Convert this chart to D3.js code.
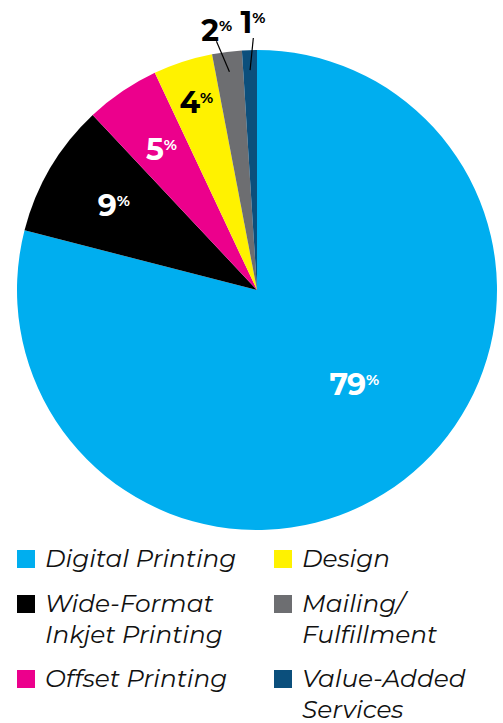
<!DOCTYPE html>
<html>
<head>
    <meta charset="utf-8">
    <script src="https://d3js.org/d3.v7.min.js"></script>
    <style>
        body { margin: 0; background: #fff; }
        svg { display: block; }
    </style>
</head>
<body>
<div id="chart"></div>
<script>
    // chart data
    const categories = ["Digital Printing", "Wide-Format Inkjet Printing", "Offset Printing", "Design", "Mailing/ Fulfillment", "Value-Added Services"];
    const values = [79, 9, 5, 4, 2, 1];
    const colors = ["#00aeef", "#000000", "#ec008c", "#fff200", "#6d6e71", "#0b4f7c"];
    // legend lines (wrapped like the original)
    const legendLines = [["Digital Printing"], ["Wide-Format", "Inkjet Printing"], ["Offset Printing"], ["Design"], ["Mailing/", "Fulfillment"], ["Value-Added", "Services"]];

    const width = 503, height = 723;
    const cx = 257, cy = 290, radius = 240;

    const svg = d3.select("#chart").append("svg")
        .attr("width", width)
        .attr("height", height);

    const pie = d3.pie().sort(null).value(d => d);
    const arcs = pie(values);
    const arc = d3.arc().innerRadius(0).outerRadius(radius);

    const g = svg.append("g").attr("transform", `translate(${cx},${cy})`);

    g.selectAll("path")
        .data(arcs)
        .enter()
        .append("path")
        .attr("d", arc)
        .attr("fill", (d, i) => colors[i]);

    // label placement: radius and angle nudge per slice
    const labelR = [135, 167, 171, 198, 263, 268];
    const labelShift = [-0.14, 0, 0, 0, -0.03, 0.014];
    const inside = [true, true, true, true, false, false];

    function polar(r, a) {
        return [r * Math.sin(a), -r * Math.cos(a)];
    }

    arcs.forEach((d, i) => {
        const mid = (d.startAngle + d.endAngle) / 2;
        const [x, y] = polar(labelR[i], mid + labelShift[i]);
        const col = inside[i] && i !== 3 ? "#fff" : "#000";
        const t = g.append("text")
            .attr("x", x)
            .attr("y", y + 11)
            .attr("text-anchor", "middle")
            .style("font-family", "Montserrat, Lato, 'Noto Sans', sans-serif")
            .style("font-weight", 700)
            .style("font-size", "30px")
            .style("letter-spacing", "-1px")
            .attr("fill", col);
        t.append("tspan").text(values[i]);
        t.append("tspan")
            .attr("dy", -10)
            .attr("dx", 1)
            .style("font-size", "15px")
            .text("%");
        if (!inside[i]) {
            // leader line into the thin slice
            const [x1, y1] = polar(radius + 12, mid + labelShift[i] * 1.2);
            const [x2, y2] = polar(radius - 20, mid);
            g.append("line")
                .attr("x1", x1).attr("y1", y1)
                .attr("x2", x2).attr("y2", y2)
                .attr("stroke", "#000")
                .attr("stroke-width", 1.2);
        }
    });

    // legend
    const colX = [17, 274];
    const rowY = [567, 612, 687];
    const legend = svg.append("g");
    legendLines.forEach((lines, i) => {
        const col = Math.floor(i / 3), row = i % 3;
        const x = colX[col], y = rowY[row];
        legend.append("rect")
            .attr("x", x)
            .attr("y", y - 17)
            .attr("width", 18)
            .attr("height", 18)
            .attr("fill", colors[i]);
        const t = legend.append("text")
            .attr("x", x + 28)
            .attr("y", y)
            .style("font-family", "Montserrat, Lato, 'Noto Sans', sans-serif")
            .style("font-style", "italic")
            .style("font-weight", 400)
            .style("font-size", "24.8px")
            .attr("fill", "#111");
        lines.forEach((l, j) => {
            t.append("tspan")
                .attr("x", x + 28)
                .attr("dy", j === 0 ? 0 : 31)
                .text(l);
        });
    });
</script>
</body>
</html>
